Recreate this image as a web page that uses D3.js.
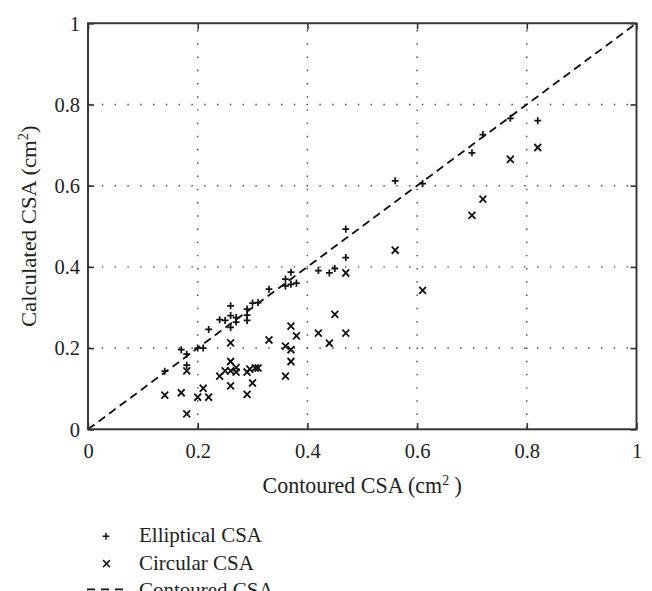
<!DOCTYPE html>
<html>
<head>
<meta charset="utf-8">
<script src="https://cdn.jsdelivr.net/npm/d3@7/dist/d3.min.js"></script>
<style>
  html, body { margin: 0; padding: 0; background: #fff; }
  svg { display: block; }
  svg text { font-family: 'Liberation Serif', 'Times New Roman', 'DejaVu Serif', serif !important; fill: #222; }
</style>
</head>
<body>
<svg id="chart" width="652" height="591"></svg>
<script>
// ---- data ----
const tickValues = [0, 0.2, 0.4, 0.6, 0.8, 1];
const tickLabels = ["0", "0.2", "0.4", "0.6", "0.8", "1"];
const gridValues = [0.2, 0.4, 0.6, 0.8];

// Elliptical CSA: [contoured, calculated]
const elliptical = [
  [0.14, 0.143], [0.17, 0.196], [0.18, 0.185], [0.18, 0.158], [0.20, 0.200],
  [0.21, 0.200], [0.22, 0.246], [0.24, 0.270], [0.25, 0.268], [0.26, 0.304],
  [0.26, 0.280], [0.26, 0.251], [0.27, 0.275], [0.27, 0.264], [0.29, 0.296],
  [0.29, 0.281], [0.29, 0.268], [0.30, 0.311], [0.31, 0.312], [0.33, 0.345],
  [0.36, 0.370], [0.36, 0.353], [0.37, 0.387], [0.37, 0.357], [0.38, 0.360],
  [0.42, 0.391], [0.44, 0.385], [0.45, 0.396], [0.47, 0.493], [0.47, 0.423],
  [0.56, 0.612], [0.61, 0.605], [0.70, 0.681], [0.72, 0.726], [0.77, 0.766],
  [0.82, 0.760]
];
// Circular CSA: [contoured, calculated]
const circular = [
  [0.14, 0.084], [0.17, 0.090], [0.18, 0.144], [0.18, 0.038], [0.20, 0.079],
  [0.21, 0.101], [0.22, 0.079], [0.24, 0.131], [0.25, 0.144], [0.26, 0.144],
  [0.26, 0.213], [0.26, 0.167], [0.26, 0.107], [0.27, 0.141], [0.27, 0.152],
  [0.29, 0.141], [0.29, 0.086], [0.295, 0.148], [0.30, 0.114], [0.305, 0.151],
  [0.31, 0.151], [0.33, 0.220], [0.36, 0.205], [0.36, 0.131], [0.37, 0.254],
  [0.37, 0.196], [0.37, 0.167], [0.38, 0.230], [0.42, 0.237], [0.44, 0.212],
  [0.45, 0.283], [0.47, 0.237], [0.47, 0.385], [0.56, 0.441], [0.61, 0.342],
  [0.70, 0.527], [0.72, 0.567], [0.77, 0.665], [0.82, 0.694]
];
// Contoured CSA identity line
const identityLine = [[0, 0], [1, 1]];

const legendItems = ["Elliptical CSA", "Circular CSA", "Contoured CSA"];

// ---- layout ----
const FONT = "'Liberation Serif', 'Times New Roman', 'DejaVu Serif', serif";
const root = d3.select("#chart").attr("font-family", FONT);
// the figure is slightly stretched vertically so that the cut legend meets the bottom edge
const svg = root.append("g").attr("transform", "scale(1,1.0332)");
const L = 88, R = 636.5, T = 22.5, B = 415.5;
const x = d3.scaleLinear().domain([0, 1]).range([L, R]);
const y = d3.scaleLinear().domain([0, 1]).range([B, T]);
const fmt = d => tickLabels[tickValues.indexOf(d)];

// grid
const grid = svg.append("g").attr("stroke", "#444").attr("stroke-width", 1.4)
  .attr("stroke-dasharray", "1.4,11.4").attr("fill", "none");
grid.selectAll("line.v").data(gridValues).join("line").attr("class", "v")
  .attr("x1", d => x(d)).attr("x2", d => x(d)).attr("y1", B - 1).attr("y2", T);
grid.selectAll("line.h").data(gridValues).join("line").attr("class", "h")
  .attr("y1", d => y(d)).attr("y2", d => y(d)).attr("x1", L + 1).attr("x2", R);

// identity dashed line
svg.append("path").datum(identityLine)
  .attr("d", d3.line().x(d => x(d[0])).y(d => y(d[1])))
  .attr("fill", "none").attr("stroke", "#111").attr("stroke-width", 1.8)
  .attr("stroke-dasharray", "8,5");

// axes
const tk = 6;
function styleAxis(g) {
  g.attr("font-family", FONT).attr("font-size", 20.5);
  g.select(".domain").remove();
  g.selectAll(".tick line").attr("stroke", "#333").attr("stroke-width", 1.6);
  g.selectAll(".tick text").attr("fill", "#222")
    .attr("font-family", FONT).style("font-size", "20.5px");
}
svg.append("g").attr("transform", `translate(0,${B})`)
  .call(d3.axisBottom(x).tickValues(tickValues).tickFormat(fmt).tickSizeInner(-tk).tickSizeOuter(0).tickPadding(13))
  .call(styleAxis);
svg.append("g").attr("transform", `translate(${L},0)`)
  .call(d3.axisLeft(y).tickValues(tickValues).tickFormat(fmt).tickSizeInner(-tk).tickSizeOuter(0).tickPadding(8))
  .call(styleAxis);
svg.append("g").attr("transform", `translate(0,${T})`)
  .call(d3.axisTop(x).tickValues(tickValues).tickFormat("").tickSizeInner(-tk).tickSizeOuter(0))
  .call(styleAxis);
svg.append("g").attr("transform", `translate(${R},0)`)
  .call(d3.axisRight(y).tickValues(tickValues).tickFormat("").tickSizeInner(-tk).tickSizeOuter(0))
  .call(styleAxis);

// frame
svg.append("rect").attr("x", x(0)).attr("y", y(1))
  .attr("width", x(1) - x(0)).attr("height", y(0) - y(1))
  .attr("fill", "none").attr("stroke", "#333").attr("stroke-width", 1.9);

// markers
const s = 3.4;
const plusPath = (cx, cy) => `M${cx - s},${cy}H${cx + s}M${cx},${cy - s}V${cy + s}`;
const crossPath = (cx, cy) => `M${cx - s},${cy - s}L${cx + s},${cy + s}M${cx - s},${cy + s}L${cx + s},${cy - s}`;

svg.append("g").selectAll("path").data(elliptical).join("path")
  .attr("d", d => plusPath(x(d[0]), y(d[1])))
  .attr("stroke", "#111").attr("stroke-width", 1.7).attr("fill", "none");
svg.append("g").selectAll("path").data(circular).join("path")
  .attr("d", d => crossPath(x(d[0]), y(d[1])))
  .attr("stroke", "#111").attr("stroke-width", 1.8).attr("fill", "none");

// axis titles
const xt = svg.append("text").attr("x", (L + R) / 2).attr("y", 477)
  .attr("text-anchor", "middle").attr("font-family", FONT).style("font-size", "22px");
xt.append("tspan").text("Contoured CSA (cm");
xt.append("tspan").attr("dy", -8).style("font-size", "14px").text("2");
xt.append("tspan").attr("dy", 8).text(" )");

const yt = svg.append("text").attr("transform", `translate(35.5,${(T + B) / 2}) rotate(-90)`)
  .attr("text-anchor", "middle").attr("font-family", FONT).style("font-size", "22px");
yt.append("tspan").text("Calculated CSA (cm");
yt.append("tspan").attr("dy", -8).style("font-size", "14px").text("2");
yt.append("tspan").attr("dy", 8).text(")");

// legend (cut at the bottom like the reference)
svg.append("clipPath").attr("id", "legclip")
  .append("rect").attr("x", 0).attr("y", 490).attr("width", 652).attr("height", 82);
const leg = svg.append("g").attr("clip-path", "url(#legclip)");
const legY = [519, 545.5, 572];
leg.append("path").attr("d", plusPath(106, legY[0]))
  .attr("stroke", "#111").attr("stroke-width", 1.5);
leg.append("path").attr("d", crossPath(106.5, legY[1]))
  .attr("stroke", "#111").attr("stroke-width", 1.5);
leg.append("line").attr("x1", 87).attr("x2", 125).attr("y1", 570.5).attr("y2", 570.5)
  .attr("stroke", "#111").attr("stroke-width", 1.6).attr("stroke-dasharray", "8,6");
leg.selectAll("text").data(legendItems).join("text")
  .attr("x", 139).attr("y", (d, i) => legY[i] + 6)
  .attr("font-family", FONT).style("font-size", "21px").text(d => d);
</script>
</body>
</html>
